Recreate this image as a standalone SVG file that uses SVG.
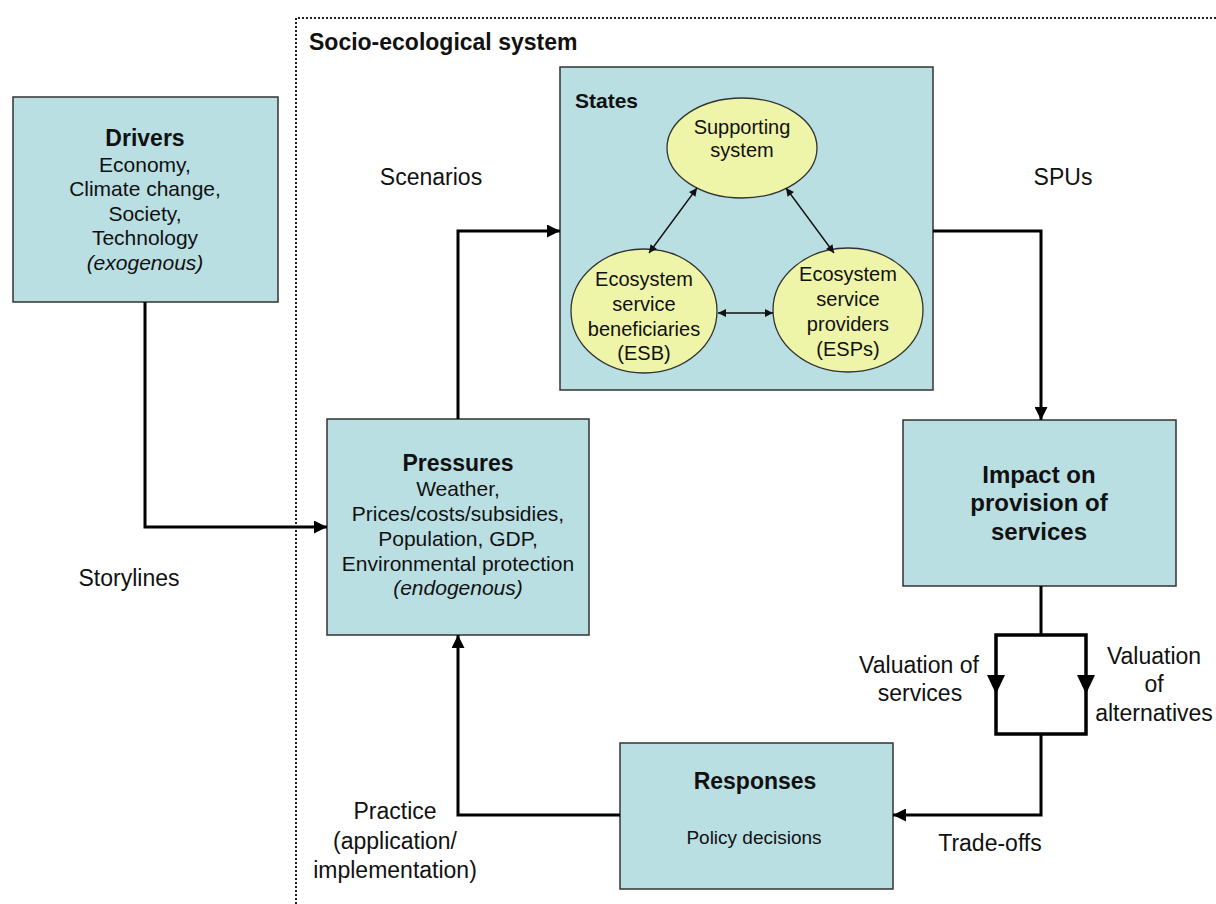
<svg xmlns="http://www.w3.org/2000/svg" width="1216" height="904" viewBox="0 0 1216 904">
<style>
text{font-family:"Liberation Sans",Arial,sans-serif;fill:#111}
.box{fill:#b9dfe3;stroke:#333;stroke-width:1.5}
.ell{fill:#eef5a9;stroke:#333;stroke-width:1.3}
.t{font-size:21px;text-anchor:middle}
.h{font-size:23px;font-weight:bold;text-anchor:middle}
.lbl{font-size:23px;text-anchor:middle}
.e{font-size:20px;text-anchor:middle}
.conn{fill:none;stroke:#000;stroke-width:3}
.thin{fill:none;stroke:#111;stroke-width:1.4}
</style>
<defs>
<marker id="ah" viewBox="0 0 10 10" refX="10" refY="5" markerWidth="13" markerHeight="13" markerUnits="userSpaceOnUse" orient="auto"><path d="M0,0 L10,5 L0,10 z" fill="#000"/></marker>
<marker id="sa" viewBox="0 0 10 10" refX="10" refY="5" markerWidth="9" markerHeight="8" markerUnits="userSpaceOnUse" orient="auto-start-reverse"><path d="M0,0 L10,5 L0,10 z" fill="#111"/></marker>
</defs>
<rect width="1216" height="904" fill="#fff"/>
<g id="system-boundary">
<path d="M296,904 V18 H1216" fill="none" stroke="#222" stroke-width="2" stroke-dasharray="2,2"/>
<text x="309" y="50" style="font-size:23px;font-weight:bold">Socio-ecological system</text>
</g>
<g id="drivers">
<rect class="box" x="13" y="97" width="265" height="205"/>
<text class="h" x="145" y="146">Drivers</text>
<text class="t" x="145" y="172">Economy,</text>
<text class="t" x="145" y="196">Climate change,</text>
<text class="t" x="145" y="221">Society,</text>
<text class="t" x="145" y="245">Technology</text>
<text class="t" x="145" y="270" font-style="italic">(exogenous)</text>
</g>
<g id="states">
<rect class="box" x="560" y="67" width="373" height="323"/>
<text x="575" y="108" style="font-size:21px;font-weight:bold">States</text>
</g>
<g id="supporting-system">
<ellipse class="ell" cx="742" cy="148" rx="75" ry="50"/>
<text class="e" x="742" y="134">Supporting</text>
<text class="e" x="742" y="157">system</text>
</g>
<g id="esb">
<ellipse class="ell" cx="644" cy="311" rx="73" ry="62"/>
<text class="e" x="644" y="286">Ecosystem</text>
<text class="e" x="644" y="311">service</text>
<text class="e" x="644" y="336">beneficiaries</text>
<text class="e" x="644" y="360">(ESB)</text>
</g>
<g id="esp">
<ellipse class="ell" cx="848" cy="310" rx="75" ry="62"/>
<text class="e" x="848" y="281">Ecosystem</text>
<text class="e" x="848" y="306">service</text>
<text class="e" x="848" y="331">providers</text>
<text class="e" x="848" y="356">(ESPs)</text>
</g>
<g id="pressures">
<rect class="box" x="327" y="419" width="262" height="216"/>
<text class="h" x="458" y="471">Pressures</text>
<text class="t" x="458" y="496">Weather,</text>
<text class="t" x="458" y="521">Prices/costs/subsidies,</text>
<text class="t" x="458" y="546">Population, GDP,</text>
<text class="t" x="458" y="571">Environmental protection</text>
<text class="t" x="458" y="595" font-style="italic">(endogenous)</text>
</g>
<g id="impact">
<rect class="box" x="903" y="420" width="273" height="166"/>
<text class="h" x="1039" y="483" style="font-size:24px">Impact on</text>
<text class="h" x="1039" y="511" style="font-size:24px">provision of</text>
<text class="h" x="1039" y="540" style="font-size:24px">services</text>
</g>
<g id="responses">
<rect class="box" x="620" y="743" width="273" height="146"/>
<text class="h" x="755" y="789">Responses</text>
<text class="t" x="754" y="844" style="font-size:19px">Policy decisions</text>
</g>
<g id="connectors">
<path class="conn" d="M145,302 V527 H327" marker-end="url(#ah)"/>
<path class="conn" d="M458,419 V231 H560" marker-end="url(#ah)"/>
<path class="conn" d="M933,231 H1041 V420" marker-end="url(#ah)"/>
<path class="conn" d="M1041,586 V635"/>
<rect x="996" y="635" width="90" height="99" fill="none" stroke="#000" stroke-width="3.5"/>
<polygon points="987,675 1005,675 996,694" fill="#000"/>
<polygon points="1077,675 1095,675 1086,694" fill="#000"/>
<path class="conn" d="M1041,734 V815 H893" marker-end="url(#ah)"/>
<path class="conn" d="M620,815 H458 V635" marker-end="url(#ah)"/>
<path class="thin" d="M697,188 L649,253" marker-start="url(#sa)" marker-end="url(#sa)"/>
<path class="thin" d="M786,188 L834,253" marker-start="url(#sa)" marker-end="url(#sa)"/>
<path class="thin" d="M718,313 L773,313" marker-start="url(#sa)" marker-end="url(#sa)"/>
</g>
<g id="labels">
<text class="lbl" x="431" y="185">Scenarios</text>
<text class="lbl" x="1063" y="185">SPUs</text>
<text class="lbl" x="129" y="586">Storylines</text>
<text class="lbl" x="919" y="673">Valuation of</text>
<text class="lbl" x="920" y="701">services</text>
<text class="lbl" x="1154" y="664">Valuation</text>
<text class="lbl" x="1154" y="692">of</text>
<text class="lbl" x="1154" y="721">alternatives</text>
<text class="lbl" x="990" y="851">Trade-offs</text>
<text class="lbl" x="395" y="819">Practice</text>
<text class="lbl" x="395" y="849">(application/</text>
<text class="lbl" x="395" y="878">implementation)</text>
</g>
</svg>
